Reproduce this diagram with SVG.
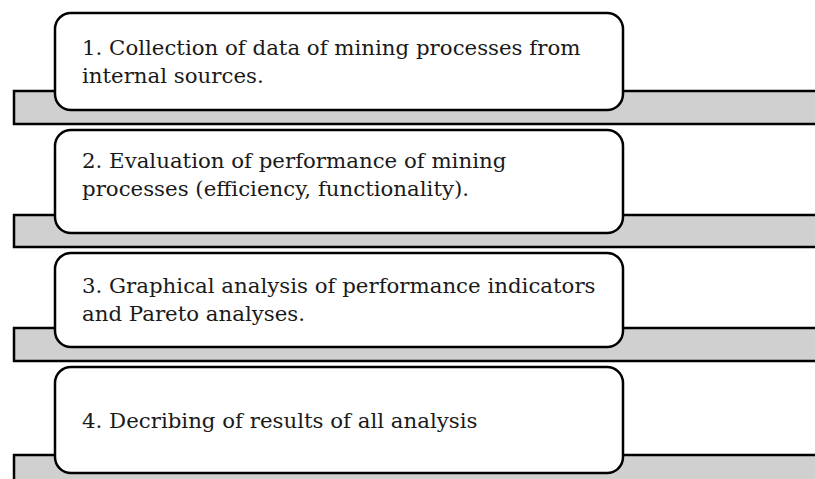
<svg xmlns="http://www.w3.org/2000/svg" width="815" height="479" viewBox="0 0 815 479">
<style>
.bar{fill:#d0d0d0;stroke:#000;stroke-width:2.5}
.box{fill:#fff;stroke:#000;stroke-width:2.5}
.t{font-family:"DejaVu Serif","Liberation Serif",serif;font-size:21.3px;fill:#1a1a1a}
</style>
<rect width="815" height="479" fill="#fff"/>
<g id="connectors"></g>
<g id="step1">
<rect class="bar" x="14" y="91" width="820" height="33"/>
<rect class="box" x="55" y="13" width="568" height="97" rx="16"/>
<text class="t" x="82" y="55">1. Collection of data of mining processes from</text>
<text class="t" x="82" y="83">internal sources.</text>
</g>
<g id="step2">
<rect class="bar" x="14" y="215" width="820" height="32"/>
<rect class="box" x="55" y="130" width="568" height="103" rx="16"/>
<text class="t" x="82" y="168">2. Evaluation of performance of mining</text>
<text class="t" x="82" y="196">processes (efficiency, functionality).</text>
</g>
<g id="step3">
<rect class="bar" x="14" y="328" width="820" height="33"/>
<rect class="box" x="55" y="253" width="568" height="94" rx="16"/>
<text class="t" x="82" y="293">3. Graphical analysis of performance indicators</text>
<text class="t" x="82" y="321">and Pareto analyses.</text>
</g>
<g id="step4">
<rect class="bar" x="14" y="455" width="820" height="40"/>
<rect class="box" x="55" y="367" width="568" height="106" rx="16"/>
<text class="t" x="82" y="428">4. Decribing of results of all analysis</text>
</g>
</svg>
